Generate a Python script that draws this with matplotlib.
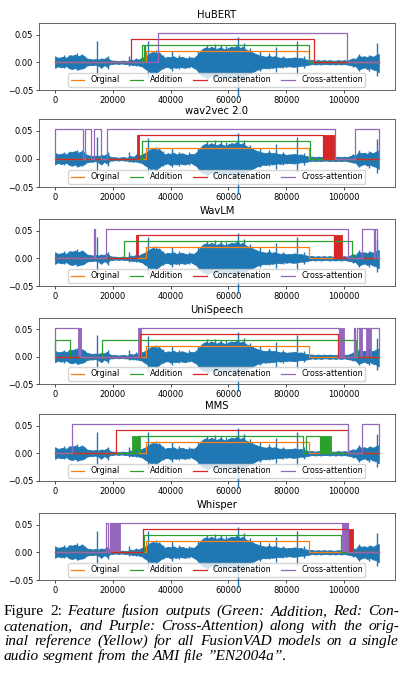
import numpy as np
import matplotlib
matplotlib.use("Agg")
import matplotlib.pyplot as plt

## waveform envelope, one value every 1000 samples
wave_step = 1000
wave_up = [0.011, 0.008, 0.009, 0.010, 0.008, 0.013,
           0.012, 0.014, 0.011, 0.013, 0.012,
           0.007, 0.006, 0.005, 0.006,
           0.005, 0.007, 0.006, 0.009,
           0.004, 0.003, 0.003, 0.002, 0.003, 0.003, 0.002,
           0.005, 0.004, 0.006, 0.005, 0.008,
           0.010, 0.013, 0.017, 0.019, 0.016, 0.018, 0.012,
           0.008, 0.010, 0.009, 0.011, 0.008, 0.009, 0.010, 0.008, 0.007, 0.009, 0.008, 0.012,
           0.018, 0.024, 0.027, 0.025, 0.028, 0.026, 0.024, 0.027, 0.025, 0.023,
           0.026, 0.028, 0.027, 0.030, 0.026, 0.028, 0.023, 0.021, 0.019, 0.016,
           0.014, 0.012, 0.011, 0.010, 0.012, 0.010, 0.011, 0.009, 0.008, 0.009,
           0.007, 0.008, 0.008, 0.009, 0.007, 0.008, 0.006, 0.005,
           0.004, 0.004, 0.003, 0.004, 0.003, 0.004, 0.003, 0.004, 0.003, 0.003, 0.004, 0.003, 0.004, 0.003,
           0.005, 0.007, 0.006, 0.012, 0.010, 0.011, 0.009, 0.012, 0.010, 0.013, 0.015]
wave_lo = [-0.010, -0.007, -0.009, -0.008, -0.007, -0.011,
           -0.012, -0.010, -0.013, -0.011, -0.010,
           -0.006, -0.005, -0.005, -0.004,
           -0.006, -0.010, -0.005, -0.008,
           -0.003, -0.003, -0.002, -0.003, -0.002, -0.003, -0.003,
           -0.004, -0.005, -0.004, -0.006, -0.007,
           -0.011, -0.014, -0.018, -0.017, -0.019, -0.015, -0.011,
           -0.009, -0.008, -0.011, -0.009, -0.010, -0.008, -0.009, -0.010, -0.008, -0.007, -0.010, -0.013,
           -0.020, -0.025, -0.026, -0.028, -0.024, -0.027, -0.025, -0.023, -0.026, -0.027,
           -0.025, -0.029, -0.028, -0.030, -0.027, -0.025, -0.024, -0.020, -0.018, -0.016,
           -0.013, -0.012, -0.010, -0.011, -0.009, -0.010, -0.009, -0.008, -0.009, -0.007,
           -0.008, -0.007, -0.008, -0.008, -0.007, -0.006, -0.006, -0.005,
           -0.004, -0.003, -0.004, -0.003, -0.004, -0.003, -0.003, -0.004, -0.003, -0.004, -0.003, -0.004, -0.003, -0.004,
           -0.005, -0.006, -0.007, -0.013, -0.011, -0.009, -0.012, -0.010, -0.013, -0.014, -0.018]

## single spikes in the waveform
spike_x = [3000, 7500, 9500, 14600, 18500, 25700, 28000, 32000, 35000, 37500,
           40500, 43000, 46500, 49500, 52500, 55500, 57500, 59000, 63300, 65500,
           67500, 71000, 74000, 76400, 79000, 83700, 86000, 103000, 105000,
           108500, 111300]
spike_top = [0.013, 0.016, 0.015, 0.039, 0.012, 0.012, 0.008, 0.038, 0.022, 0.014,
             0.020, 0.013, 0.012, 0.020, 0.032, 0.033, 0.031, 0.030, 0.046, 0.034,
             0.025, 0.020, 0.016, 0.027, 0.012, 0.039, 0.011, 0.008, 0.015,
             0.014, 0.035]
spike_bot = [-0.011, -0.014, -0.012, -0.025, -0.012, -0.006, -0.006, -0.028, -0.022, -0.012,
             -0.015, -0.012, -0.010, -0.015, -0.030, -0.031, -0.030, -0.028, -0.062, -0.033,
             -0.022, -0.015, -0.012, -0.018, -0.011, -0.024, -0.010, -0.008, -0.015,
             -0.016, -0.025]

n_samples = 112000

## label levels
level_orig = 0.020
level_add = 0.031
level_cat = 0.042
level_xatt = 0.053

## reference speech segments (same in every panel)
orig_seg = [(31600, 88000)]

models = ["HuBERT", "wav2vec 2.0", "WavLM", "UniSpeech", "MMS", "Whisper"]

## speech segments per model: (start, end); blocks are rapid on/off regions
add_seg = [
    [(30200, 30700), (31200, 87900)],
    [(30200, 88300)],
    [(23850, 102600)],
    [(0, 5300), (16350, 104000)],
    [(28700, 85900), (86800, 91700)],
    [(30700, 99000)],
]
add_blk = [[], [], [], [], [(26600, 29300), (91700, 95400)], []]

cat_seg = [
    [(26400, 89700)],
    [(28600, 92800)],
    [(28400, 96600)],
    [(29300, 98000)],
    [(21200, 101200)],
    [(30400, 101500)],
]
cat_blk = [[], [(28500, 29200), (92800, 96900)], [(28100, 28700), (96600, 99100)],
           [], [], [(101500, 103200)]]

xatt_seg = [
    [(35600, 100900)],
    [(0, 9650), (10340, 12530), (13340, 15770), (17960, 97000), (103800, 112000)],
    [(13500, 13900), (17500, 101500), (106100, 110300), (110800, 111500)],
    [(0, 8500), (29000, 98300), (103400, 103900), (104300, 112000)],
    [(5950, 101200), (106100, 112000)],
    [(17500, 18300), (18900, 101500)],
]
xatt_blk = [[], [], [],
            [(7900, 9000), (28800, 29800), (98300, 100000), (105200, 106300), (107500, 109200)],
            [], [(18900, 22600), (99200, 101500)]]

legend_labels = ["Orginal", "Addition", "Concatenation", "Cross-attention"]

caption = [
    [("Figure 2:", "normal"), ("Feature fusion outputs (Green: Addition, Red: Con-", "italic")],
    [("catenation, and Purple: Cross-Attention) along with the orig-", "italic")],
    [("inal reference (Yellow) for all FusionVAD models on a single", "italic")],
    [("audio segment from the AMI file \u201dEN2004a\u201d.", "italic")],
]


def step_xy(segs, level):
    xs, ys = [0], [0]
    for a, b in segs:
        xs += [a, a, b, b]
        ys += [0, level, level, 0]
    xs.append(n_samples)
    ys.append(0)
    return xs, ys


W, H = 405, 680
fig = plt.figure(figsize=(W / 100, H / 100), dpi=100)

ax_top = [23, 119, 219, 318, 414, 513]
ax_bot = [90, 187, 286, 384, 481, 580]
left_px, right_px = 38.8, 395

wave_x = np.arange(len(wave_up)) * wave_step

for i, name in enumerate(models):
    ax = fig.add_axes([left_px / W, 1 - ax_bot[i] / H,
                       (right_px - left_px) / W, (ax_bot[i] - ax_top[i]) / H])
    ax.fill_between(wave_x, wave_lo, wave_up, color="C0", lw=0.6)
    ax.vlines(spike_x, spike_bot, spike_top, color="C0", lw=1.0, clip_on=False)

    series = [(orig_seg, [], level_orig, "C1"),
              (add_seg[i], add_blk[i], level_add, "C2"),
              (cat_seg[i], cat_blk[i], level_cat, "C3"),
              (xatt_seg[i], xatt_blk[i], level_xatt, "C4")]
    for (segs, blks, lev, col), lab in zip(series, legend_labels):
        xs, ys = step_xy(segs, lev)
        ax.plot(xs, ys, color=col, lw=0.9, label=lab)
        for a, b in blks:
            ax.fill_between([a, b], 0, lev, color=col, lw=0.6)

    ax.set_xlim(-5600, 117600)
    ax.set_ylim(-0.05, 0.071)
    ax.set_yticks([-0.05, 0.0, 0.05])
    ax.set_xticks([0, 20000, 40000, 60000, 80000, 100000])
    ax.tick_params(labelsize=6, length=2.1, width=0.5, pad=2)
    for s in ax.spines.values():
        s.set_linewidth(0.6)
        s.set_color("0.3")
    ax.set_title(name, fontsize=7.2, pad=3.5)
    ax.legend(loc="lower center", ncol=4, fontsize=5.8, handlelength=1.7,
              handletextpad=0.8, columnspacing=1.2, borderpad=0.3,
              borderaxespad=0.4, frameon=True)

## caption, justified line by line
fs = 11.1
x0_px, x1_px = 4, 399
base_px = [615, 630, 645, 660]
renderer = fig.canvas.get_renderer()
for li, line in enumerate(caption):
    words = []
    for txt, style in line:
        for w in txt.split():
            words.append((w, style))
    texts = []
    widths = []
    for w, style in words:
        t = fig.text(0, 1 - base_px[li] / H, w, family="Liberation Serif",
                     style=style, fontsize=fs, va="baseline", ha="left")
        texts.append(t)
        widths.append(t.get_window_extent(renderer).width)
    if li < len(caption) - 1:
        gap = (x1_px - x0_px - sum(widths)) / (len(words) - 1)
    else:
        gap = fs * 1.389 * 0.25
    x = x0_px
    for t, wd in zip(texts, widths):
        t.set_x(x / W)
        x += wd + gap

fig.savefig("out.png", dpi=100)
